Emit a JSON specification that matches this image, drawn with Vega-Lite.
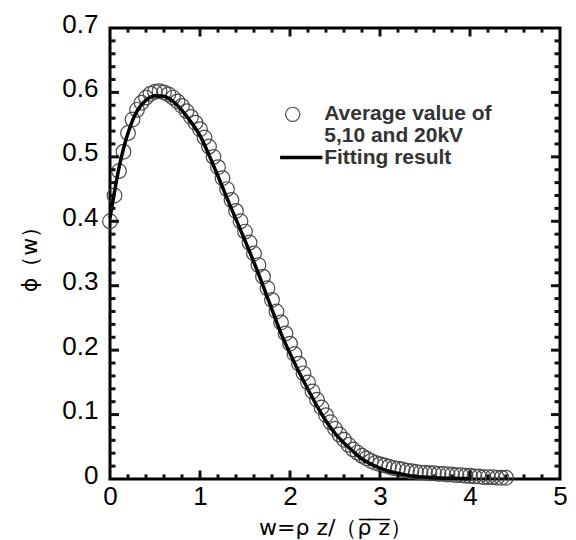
{
  "$schema": "https://vega.github.io/schema/vega-lite/v6.json",
  "width": 450,
  "height": 451,
  "autosize": {"type": "none"},
  "padding": {"left": 110, "top": 28, "right": 16, "bottom": 61},
  "background": "white",
  "config": {
    "view": {"stroke": "black", "strokeWidth": 3},
    "axis": {"grid": false, "domain": false, "ticks": false, "labelColor": "black", "labelFont": "Liberation Sans", "labelFontSize": 26, "titleFont": "DejaVu Sans", "titleFontSize": 22, "titleFontWeight": "normal", "titleColor": "black", "labelFlush": false, "labelOverlap": false}
  },
  "datasets": {
    "avg": [
      {"w": 0.00, "phi": 0.400}, {"w": 0.05, "phi": 0.440}, {"w": 0.10, "phi": 0.478}, {"w": 0.15, "phi": 0.508},
      {"w": 0.20, "phi": 0.537}, {"w": 0.25, "phi": 0.558}, {"w": 0.30, "phi": 0.573}, {"w": 0.35, "phi": 0.584},
      {"w": 0.40, "phi": 0.592}, {"w": 0.45, "phi": 0.598}, {"w": 0.50, "phi": 0.601}, {"w": 0.55, "phi": 0.602},
      {"w": 0.60, "phi": 0.600}, {"w": 0.65, "phi": 0.597}, {"w": 0.70, "phi": 0.592}, {"w": 0.75, "phi": 0.586},
      {"w": 0.80, "phi": 0.579}, {"w": 0.85, "phi": 0.571}, {"w": 0.90, "phi": 0.562}, {"w": 0.95, "phi": 0.553},
      {"w": 1.00, "phi": 0.543}, {"w": 1.05, "phi": 0.530}, {"w": 1.10, "phi": 0.516}, {"w": 1.15, "phi": 0.500},
      {"w": 1.20, "phi": 0.484}, {"w": 1.25, "phi": 0.467}, {"w": 1.30, "phi": 0.450}, {"w": 1.35, "phi": 0.433},
      {"w": 1.40, "phi": 0.416}, {"w": 1.45, "phi": 0.400}, {"w": 1.50, "phi": 0.384}, {"w": 1.55, "phi": 0.367},
      {"w": 1.60, "phi": 0.350}, {"w": 1.65, "phi": 0.332}, {"w": 1.70, "phi": 0.314}, {"w": 1.75, "phi": 0.296},
      {"w": 1.80, "phi": 0.278}, {"w": 1.85, "phi": 0.260}, {"w": 1.90, "phi": 0.243}, {"w": 1.95, "phi": 0.226},
      {"w": 2.00, "phi": 0.210}, {"w": 2.05, "phi": 0.194}, {"w": 2.10, "phi": 0.179}, {"w": 2.15, "phi": 0.164},
      {"w": 2.20, "phi": 0.150}, {"w": 2.25, "phi": 0.136}, {"w": 2.30, "phi": 0.123}, {"w": 2.35, "phi": 0.111},
      {"w": 2.40, "phi": 0.099}, {"w": 2.45, "phi": 0.088}, {"w": 2.50, "phi": 0.078}, {"w": 2.55, "phi": 0.069},
      {"w": 2.60, "phi": 0.061}, {"w": 2.65, "phi": 0.053}, {"w": 2.70, "phi": 0.046}, {"w": 2.75, "phi": 0.041},
      {"w": 2.80, "phi": 0.036}, {"w": 2.85, "phi": 0.032}, {"w": 2.90, "phi": 0.028}, {"w": 2.95, "phi": 0.025},
      {"w": 3.00, "phi": 0.023}, {"w": 3.05, "phi": 0.021}, {"w": 3.10, "phi": 0.019}, {"w": 3.15, "phi": 0.017},
      {"w": 3.20, "phi": 0.016}, {"w": 3.25, "phi": 0.015}, {"w": 3.30, "phi": 0.013}, {"w": 3.35, "phi": 0.012},
      {"w": 3.40, "phi": 0.011}, {"w": 3.45, "phi": 0.010}, {"w": 3.50, "phi": 0.010}, {"w": 3.55, "phi": 0.009},
      {"w": 3.60, "phi": 0.009}, {"w": 3.65, "phi": 0.008}, {"w": 3.70, "phi": 0.008}, {"w": 3.75, "phi": 0.007},
      {"w": 3.80, "phi": 0.007}, {"w": 3.85, "phi": 0.006}, {"w": 3.90, "phi": 0.006}, {"w": 3.95, "phi": 0.005},
      {"w": 4.00, "phi": 0.005}, {"w": 4.05, "phi": 0.004}, {"w": 4.10, "phi": 0.004}, {"w": 4.15, "phi": 0.003},
      {"w": 4.20, "phi": 0.003}, {"w": 4.25, "phi": 0.003}, {"w": 4.30, "phi": 0.002}, {"w": 4.35, "phi": 0.002},
      {"w": 4.40, "phi": 0.002}
    ],
    "fit": [
      {"w": 0.0, "phi": 0.405}, {"w": 0.1, "phi": 0.483}, {"w": 0.2, "phi": 0.537}, {"w": 0.3, "phi": 0.571},
      {"w": 0.4, "phi": 0.588}, {"w": 0.5, "phi": 0.595}, {"w": 0.6, "phi": 0.594}, {"w": 0.7, "phi": 0.586},
      {"w": 0.8, "phi": 0.572}, {"w": 0.9, "phi": 0.554}, {"w": 1.0, "phi": 0.533}, {"w": 1.1, "phi": 0.503},
      {"w": 1.2, "phi": 0.470}, {"w": 1.3, "phi": 0.436}, {"w": 1.4, "phi": 0.403}, {"w": 1.5, "phi": 0.370},
      {"w": 1.6, "phi": 0.336}, {"w": 1.7, "phi": 0.300}, {"w": 1.8, "phi": 0.263}, {"w": 1.9, "phi": 0.226},
      {"w": 2.0, "phi": 0.195}, {"w": 2.1, "phi": 0.166}, {"w": 2.2, "phi": 0.139}, {"w": 2.3, "phi": 0.113},
      {"w": 2.4, "phi": 0.090}, {"w": 2.5, "phi": 0.071}, {"w": 2.6, "phi": 0.056}, {"w": 2.7, "phi": 0.043},
      {"w": 2.8, "phi": 0.031}, {"w": 2.9, "phi": 0.023}, {"w": 3.0, "phi": 0.017}, {"w": 3.1, "phi": 0.012},
      {"w": 3.2, "phi": 0.009}, {"w": 3.3, "phi": 0.006}, {"w": 3.4, "phi": 0.004}, {"w": 3.5, "phi": 0.003},
      {"w": 3.6, "phi": 0.002}, {"w": 3.7, "phi": 0.0015}, {"w": 3.8, "phi": 0.001}, {"w": 3.9, "phi": 0.0006},
      {"w": 4.0, "phi": 0.0003}
    ],
    "xMajor": [{"w": 1}, {"w": 2}, {"w": 3}, {"w": 4}],
    "xMinor": [{"w": 0.2}, {"w": 0.4}, {"w": 0.6}, {"w": 0.8}, {"w": 1.2}, {"w": 1.4}, {"w": 1.6}, {"w": 1.8}, {"w": 2.2}, {"w": 2.4}, {"w": 2.6}, {"w": 2.8}, {"w": 3.2}, {"w": 3.4}, {"w": 3.6}, {"w": 3.8}, {"w": 4.2}, {"w": 4.4}, {"w": 4.6}, {"w": 4.8}],
    "yMajor": [{"phi": 0.1}, {"phi": 0.2}, {"phi": 0.3}, {"phi": 0.4}, {"phi": 0.5}, {"phi": 0.6}],
    "yMinor": [{"phi": 0.02}, {"phi": 0.04}, {"phi": 0.06}, {"phi": 0.08}, {"phi": 0.12}, {"phi": 0.14}, {"phi": 0.16}, {"phi": 0.18}, {"phi": 0.22}, {"phi": 0.24}, {"phi": 0.26}, {"phi": 0.28}, {"phi": 0.32}, {"phi": 0.34}, {"phi": 0.36}, {"phi": 0.38}, {"phi": 0.42}, {"phi": 0.44}, {"phi": 0.46}, {"phi": 0.48}, {"phi": 0.52}, {"phi": 0.54}, {"phi": 0.56}, {"phi": 0.58}, {"phi": 0.62}, {"phi": 0.64}, {"phi": 0.66}, {"phi": 0.68}],
    "legendLine": [{"w": 1.89, "phi": 0.499}, {"w": 2.36, "phi": 0.499}],
    "legendSym": [{"w": 2.03, "phi": 0.566}],
    "legendText": [
      {"w": 2.38, "phi": 0.567, "label": "Average value of"},
      {"w": 2.38, "phi": 0.533, "label": "5,10 and 20kV"},
      {"w": 2.38, "phi": 0.499, "label": "Fitting result"}
    ]
  },
  "layer": [
    {
      "data": {"name": "avg"},
      "mark": {"type": "point", "shape": "circle", "filled": false, "size": 215, "stroke": "#4a4a4a", "strokeWidth": 1.2, "opacity": 1},
      "encoding": {
        "x": {"field": "w", "type": "quantitative", "scale": {"domain": [0, 5], "nice": false, "zero": false},
          "axis": {"orient": "bottom", "values": [0, 1, 2, 3, 4, 5], "labelPadding": 4, "format": "d",
            "title": "w=ρ z/（ρ̅ ̅z̅）", "titlePadding": 8}},
        "y": {"field": "phi", "type": "quantitative", "scale": {"domain": [0, 0.7], "nice": false, "zero": false},
          "axis": {"orient": "left", "values": [0, 0.1, 0.2, 0.3, 0.4, 0.5, 0.6, 0.7], "labelPadding": 12, "labelOffset": -4,
            "labelExpr": "datum.value == 0 ? '0' : format(datum.value, '.1f')",
            "title": "ϕ（w）", "titlePadding": 20}}
      }
    },
    {
      "data": {"name": "fit"},
      "mark": {"type": "line", "color": "black", "strokeWidth": 3.5, "interpolate": "monotone"},
      "encoding": {
        "x": {"field": "w", "type": "quantitative"},
        "y": {"field": "phi", "type": "quantitative"}
      }
    },
    {
      "data": {"name": "xMajor"},
      "mark": {"type": "rule", "color": "#111111", "strokeWidth": 3},
      "encoding": {"x": {"field": "w", "type": "quantitative"}, "y": {"datum": 0}, "y2": {"datum": 0.0132}}
    },
    {
      "data": {"name": "xMajor"},
      "mark": {"type": "rule", "color": "#111111", "strokeWidth": 3},
      "encoding": {"x": {"field": "w", "type": "quantitative"}, "y": {"datum": 0.7}, "y2": {"datum": 0.6868}}
    },
    {
      "data": {"name": "xMinor"},
      "mark": {"type": "rule", "color": "#111111", "strokeWidth": 3},
      "encoding": {"x": {"field": "w", "type": "quantitative"}, "y": {"datum": 0}, "y2": {"datum": 0.0072}}
    },
    {
      "data": {"name": "xMinor"},
      "mark": {"type": "rule", "color": "#111111", "strokeWidth": 3},
      "encoding": {"x": {"field": "w", "type": "quantitative"}, "y": {"datum": 0.7}, "y2": {"datum": 0.6928}}
    },
    {
      "data": {"name": "yMajor"},
      "mark": {"type": "rule", "color": "#111111", "strokeWidth": 3},
      "encoding": {"y": {"field": "phi", "type": "quantitative"}, "x": {"datum": 0}, "x2": {"datum": 0.1}}
    },
    {
      "data": {"name": "yMajor"},
      "mark": {"type": "rule", "color": "#111111", "strokeWidth": 3},
      "encoding": {"y": {"field": "phi", "type": "quantitative"}, "x": {"datum": 5}, "x2": {"datum": 4.9}}
    },
    {
      "data": {"name": "yMinor"},
      "mark": {"type": "rule", "color": "#111111", "strokeWidth": 3},
      "encoding": {"y": {"field": "phi", "type": "quantitative"}, "x": {"datum": 0}, "x2": {"datum": 0.061}}
    },
    {
      "data": {"name": "yMinor"},
      "mark": {"type": "rule", "color": "#111111", "strokeWidth": 3},
      "encoding": {"y": {"field": "phi", "type": "quantitative"}, "x": {"datum": 5}, "x2": {"datum": 4.939}}
    },
    {
      "data": {"name": "legendSym"},
      "mark": {"type": "point", "shape": "circle", "filled": false, "size": 200, "stroke": "#4a4a4a", "strokeWidth": 1.2, "opacity": 1},
      "encoding": {
        "x": {"field": "w", "type": "quantitative"},
        "y": {"field": "phi", "type": "quantitative"}
      }
    },
    {
      "data": {"name": "legendLine"},
      "mark": {"type": "line", "color": "black", "strokeWidth": 3.5},
      "encoding": {
        "x": {"field": "w", "type": "quantitative"},
        "y": {"field": "phi", "type": "quantitative"}
      }
    },
    {
      "data": {"name": "legendText"},
      "mark": {"type": "text", "align": "left", "baseline": "middle", "font": "Liberation Sans", "fontSize": 21, "fontWeight": "bold", "color": "#333333"},
      "encoding": {
        "x": {"field": "w", "type": "quantitative"},
        "y": {"field": "phi", "type": "quantitative"},
        "text": {"field": "label"}
      }
    }
  ]
}
